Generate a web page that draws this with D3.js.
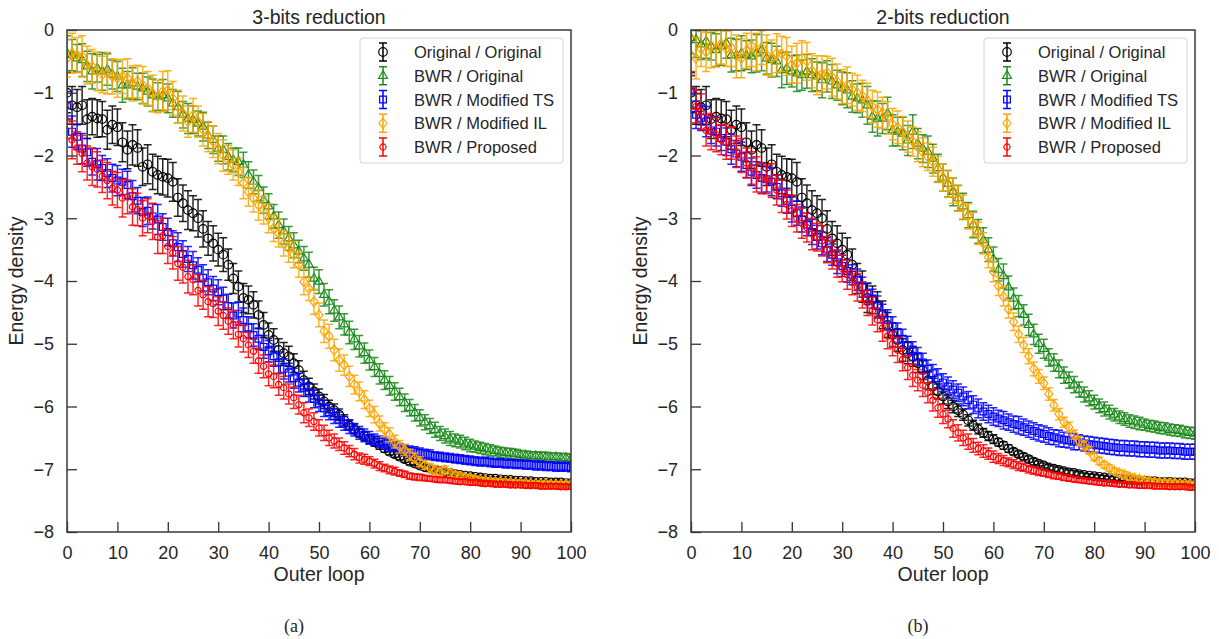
<!DOCTYPE html>
<html><head><meta charset="utf-8">
<script src="https://cdn.jsdelivr.net/npm/d3@7/dist/d3.min.js"></script>
<style>
body{margin:0;background:#fff}
text{font-family:"Liberation Sans",Arial,sans-serif;fill:#262626}
</style></head><body>
<svg id="chart" width="1219" height="639"></svg>
<script>
// ---------------- data ----------------
const outerLoop = d3.range(0, 101);
const xTicks = [0,10,20,30,40,50,60,70,80,90,100];
const yTicks = [0,-1,-2,-3,-4,-5,-6,-7,-8];
const seriesNames = ["Original / Original","BWR / Original","BWR / Modified TS","BWR / Modified IL","BWR / Proposed"];
const panelTitles = ["3-bits reduction","2-bits reduction"];
const panelCaptions = ["(a)","(b)"];

// Original / Original (same baseline in both panels)
const origVals = [
-1.00,-1.20,-1.23,-1.20,-1.42,-1.38,-1.41,-1.42,-1.59,-1.51,
-1.55,-1.79,-1.91,-1.83,-1.88,-2.18,-2.14,-2.26,-2.31,-2.34,
-2.36,-2.42,-2.67,-2.76,-2.87,-2.92,-3.00,-3.17,-3.32,-3.40,
-3.50,-3.58,-3.74,-3.96,-4.09,-4.27,-4.30,-4.38,-4.54,-4.70,
-4.86,-4.94,-5.10,-5.15,-5.20,-5.31,-5.42,-5.58,-5.68,-5.76,
-5.84,-5.92,-6.00,-6.06,-6.13,-6.22,-6.30,-6.36,-6.42,-6.47,
-6.52,-6.57,-6.62,-6.67,-6.72,-6.76,-6.80,-6.84,-6.88,-6.91,
-6.94,-6.97,-6.99,-7.01,-7.03,-7.05,-7.06,-7.08,-7.09,-7.10,
-7.11,-7.12,-7.13,-7.14,-7.15,-7.15,-7.16,-7.17,-7.17,-7.18,
-7.18,-7.19,-7.19,-7.20,-7.20,-7.20,-7.21,-7.21,-7.21,-7.22,
-7.22];
const origErr = [
0.32,0.30,0.28,0.30,0.31,0.29,0.30,0.28,0.31,0.30,
0.29,0.31,0.30,0.32,0.29,0.30,0.31,0.28,0.30,0.29,
0.30,0.31,0.30,0.29,0.31,0.28,0.30,0.29,0.27,0.28,
0.26,0.27,0.25,0.24,0.25,0.23,0.22,0.21,0.22,0.20,
0.19,0.18,0.18,0.17,0.16,0.15,0.15,0.14,0.13,0.12,
0.12,0.11,0.10,0.10,0.09,0.09,0.08,0.08,0.07,0.07,
0.07,0.06,0.06,0.06,0.05,0.05,0.05,0.05,0.05,0.04,
0.04,0.04,0.04,0.04,0.04,0.04,0.04,0.04,0.03,0.03,
0.03,0.03,0.03,0.03,0.03,0.03,0.03,0.03,0.03,0.03,
0.03,0.03,0.03,0.03,0.03,0.03,0.03,0.03,0.03,0.03,
0.03];

// ---- 3-bits reduction ----
const bwrOrigA = [
-0.37,-0.40,-0.45,-0.48,-0.58,-0.66,-0.61,-0.66,-0.63,-0.71,
-0.74,-0.88,-0.88,-0.85,-0.90,-0.93,-0.98,-1.04,-1.06,-1.04,
-1.09,-1.17,-1.23,-1.35,-1.41,-1.43,-1.49,-1.54,-1.68,-1.75,
-1.89,-1.91,-2.02,-2.07,-2.10,-2.15,-2.31,-2.42,-2.52,-2.71,
-2.81,-2.97,-3.11,-3.21,-3.32,-3.43,-3.53,-3.64,-3.74,-3.96,
-4.01,-4.22,-4.33,-4.47,-4.58,-4.69,-4.82,-4.93,-5.04,-5.15,
-5.26,-5.37,-5.48,-5.58,-5.67,-5.76,-5.85,-5.94,-6.02,-6.10,
-6.18,-6.25,-6.31,-6.37,-6.43,-6.47,-6.51,-6.54,-6.56,-6.59,
-6.62,-6.64,-6.66,-6.68,-6.70,-6.71,-6.73,-6.74,-6.75,-6.76,
-6.77,-6.78,-6.79,-6.79,-6.80,-6.80,-6.81,-6.81,-6.82,-6.82,
-6.83];
const bwrOrigAErr = [
0.28,0.25,0.22,0.26,0.24,0.28,0.22,0.30,0.25,0.23,
0.24,0.27,0.22,0.25,0.21,0.24,0.23,0.26,0.22,0.25,
0.23,0.22,0.25,0.21,0.24,0.22,0.20,0.23,0.21,0.22,
0.20,0.22,0.21,0.19,0.22,0.20,0.21,0.19,0.20,0.21,
0.20,0.19,0.21,0.20,0.19,0.20,0.18,0.19,0.20,0.18,
0.19,0.18,0.19,0.17,0.18,0.17,0.18,0.16,0.17,0.16,
0.16,0.15,0.16,0.15,0.15,0.14,0.14,0.14,0.13,0.13,
0.13,0.12,0.12,0.12,0.11,0.11,0.11,0.10,0.10,0.10,
0.10,0.09,0.09,0.09,0.09,0.08,0.08,0.08,0.08,0.08,
0.07,0.07,0.07,0.07,0.07,0.07,0.07,0.07,0.07,0.07,
0.07];
const modTSA = [
-1.20,-1.62,-1.70,-1.89,-1.95,-2.10,-2.14,-2.20,-2.28,-2.36,
-2.40,-2.42,-2.47,-2.65,-2.72,-2.90,-2.88,-2.97,-3.02,-3.14,
-3.22,-3.40,-3.46,-3.57,-3.65,-3.75,-3.82,-3.95,-4.02,-4.12,
-4.18,-4.28,-4.40,-4.55,-4.52,-4.62,-4.74,-4.86,-4.92,-5.05,
-5.12,-5.20,-5.30,-5.40,-5.46,-5.55,-5.62,-5.70,-5.78,-5.88,
-5.95,-6.03,-6.09,-6.15,-6.21,-6.27,-6.32,-6.37,-6.42,-6.46,
-6.50,-6.53,-6.56,-6.59,-6.62,-6.64,-6.67,-6.69,-6.71,-6.72,
-6.74,-6.76,-6.77,-6.79,-6.80,-6.81,-6.82,-6.83,-6.84,-6.85,
-6.86,-6.87,-6.88,-6.88,-6.89,-6.90,-6.90,-6.91,-6.91,-6.92,
-6.92,-6.93,-6.93,-6.94,-6.94,-6.95,-6.95,-6.96,-6.96,-6.96,
-6.97];
const modTSAErr = [
0.22,0.25,0.20,0.24,0.22,0.21,0.25,0.20,0.23,0.22,
0.24,0.20,0.22,0.25,0.21,0.23,0.22,0.20,0.24,0.21,
0.22,0.20,0.23,0.21,0.20,0.22,0.19,0.21,0.20,0.19,
0.20,0.18,0.19,0.20,0.18,0.19,0.17,0.18,0.17,0.18,
0.17,0.16,0.17,0.16,0.15,0.16,0.15,0.14,0.15,0.14,
0.13,0.13,0.12,0.12,0.12,0.11,0.11,0.10,0.10,0.10,
0.10,0.09,0.09,0.09,0.09,0.08,0.08,0.08,0.08,0.08,
0.08,0.08,0.08,0.07,0.07,0.07,0.07,0.07,0.07,0.07,
0.07,0.07,0.07,0.07,0.07,0.07,0.07,0.07,0.07,0.07,
0.07,0.07,0.07,0.07,0.07,0.07,0.07,0.07,0.07,0.07,
0.07];
const modILA = [
-0.45,-0.37,-0.40,-0.42,-0.56,-0.58,-0.66,-0.71,-0.69,-0.74,
-0.77,-0.74,-0.77,-0.85,-0.82,-0.88,-0.93,-1.01,-1.06,-0.98,
-0.96,-1.09,-1.22,-1.33,-1.46,-1.36,-1.46,-1.59,-1.70,-1.78,
-1.89,-2.00,-2.07,-2.15,-2.26,-2.44,-2.58,-2.68,-2.79,-2.87,
-3.00,-3.16,-3.24,-3.40,-3.48,-3.58,-3.74,-4.01,-4.12,-4.33,
-4.54,-4.80,-4.88,-5.10,-5.26,-5.34,-5.52,-5.65,-5.76,-5.89,
-6.03,-6.13,-6.27,-6.37,-6.45,-6.56,-6.64,-6.69,-6.77,-6.82,
-6.88,-6.93,-6.98,-7.01,-7.04,-7.01,-7.06,-7.09,-7.11,-7.13,
-7.14,-7.16,-7.17,-7.18,-7.19,-7.20,-7.20,-7.21,-7.21,-7.22,
-7.22,-7.22,-7.23,-7.23,-7.23,-7.23,-7.24,-7.24,-7.24,-7.24,
-7.24];
const modILAErr = [
0.30,0.32,0.28,0.33,0.30,0.27,0.31,0.29,0.33,0.28,
0.30,0.27,0.31,0.28,0.26,0.30,0.27,0.29,0.26,0.32,
0.31,0.27,0.26,0.28,0.25,0.27,0.25,0.26,0.24,0.25,
0.24,0.25,0.23,0.24,0.22,0.25,0.23,0.22,0.24,0.22,
0.23,0.21,0.22,0.20,0.22,0.21,0.20,0.21,0.19,0.20,
0.19,0.18,0.19,0.17,0.18,0.16,0.16,0.15,0.15,0.14,
0.13,0.13,0.12,0.11,0.11,0.10,0.10,0.09,0.09,0.08,
0.08,0.07,0.07,0.07,0.06,0.06,0.06,0.05,0.05,0.05,
0.05,0.05,0.04,0.04,0.04,0.04,0.04,0.04,0.04,0.04,
0.04,0.04,0.04,0.04,0.04,0.04,0.04,0.04,0.04,0.04,
0.04];
const proposedA = [
-1.45,-1.75,-1.88,-1.97,-2.12,-2.18,-2.22,-2.33,-2.40,-2.52,
-2.55,-2.68,-2.66,-2.82,-2.86,-3.00,-2.96,-3.05,-3.30,-3.28,
-3.45,-3.55,-3.72,-3.78,-3.93,-3.98,-4.15,-4.22,-4.33,-4.36,
-4.48,-4.55,-4.64,-4.70,-4.85,-4.92,-5.02,-5.12,-5.27,-5.36,
-5.48,-5.52,-5.65,-5.70,-5.80,-5.86,-5.97,-6.10,-6.18,-6.24,
-6.34,-6.42,-6.50,-6.55,-6.60,-6.66,-6.71,-6.76,-6.82,-6.84,
-6.87,-6.91,-6.95,-6.98,-7.01,-7.03,-7.06,-7.08,-7.11,-7.12,
-7.13,-7.14,-7.15,-7.16,-7.17,-7.17,-7.18,-7.19,-7.20,-7.20,
-7.21,-7.21,-7.22,-7.23,-7.23,-7.24,-7.24,-7.24,-7.25,-7.25,
-7.25,-7.26,-7.26,-7.26,-7.27,-7.27,-7.27,-7.27,-7.28,-7.28,
-7.28];
const proposedAErr = [
0.28,0.30,0.26,0.29,0.27,0.30,0.28,0.26,0.29,0.27,
0.28,0.30,0.27,0.29,0.26,0.28,0.27,0.29,0.26,0.28,
0.27,0.26,0.27,0.25,0.26,0.24,0.25,0.23,0.24,0.22,
0.23,0.22,0.21,0.22,0.20,0.21,0.20,0.19,0.20,0.18,
0.19,0.18,0.17,0.18,0.16,0.17,0.15,0.16,0.14,0.14,
0.13,0.12,0.12,0.11,0.10,0.10,0.09,0.09,0.08,0.08,
0.07,0.07,0.07,0.06,0.06,0.06,0.05,0.05,0.05,0.05,
0.05,0.04,0.04,0.04,0.04,0.04,0.04,0.04,0.04,0.04,
0.04,0.04,0.04,0.04,0.04,0.04,0.04,0.04,0.04,0.04,
0.04,0.04,0.04,0.04,0.04,0.04,0.04,0.04,0.04,0.04,
0.04];

// ---- 2-bits reduction ----
const bwrOrigB = [
-0.13,-0.16,-0.23,-0.18,-0.26,-0.32,-0.26,-0.21,-0.40,-0.40,
-0.37,-0.40,-0.42,-0.37,-0.32,-0.45,-0.48,-0.50,-0.64,-0.61,
-0.66,-0.69,-0.72,-0.66,-0.72,-0.74,-0.80,-0.74,-0.82,-0.88,
-0.93,-0.96,-1.06,-1.09,-1.12,-1.20,-1.38,-1.41,-1.41,-1.33,
-1.60,-1.62,-1.65,-1.76,-1.62,-1.81,-1.89,-1.94,-2.05,-2.20,
-2.35,-2.45,-2.58,-2.68,-2.81,-2.95,-3.10,-3.21,-3.35,-3.50,
-3.65,-3.82,-3.92,-4.10,-4.28,-4.40,-4.54,-4.70,-4.85,-5.00,
-5.08,-5.22,-5.30,-5.40,-5.50,-5.58,-5.65,-5.73,-5.81,-5.87,
-5.93,-5.99,-6.04,-6.09,-6.13,-6.17,-6.20,-6.23,-6.25,-6.27,
-6.29,-6.31,-6.32,-6.34,-6.35,-6.37,-6.38,-6.39,-6.41,-6.42,
-6.43];
const bwrOrigBErr = [
0.25,0.28,0.24,0.27,0.22,0.26,0.30,0.24,0.27,0.25,
0.28,0.23,0.26,0.30,0.33,0.25,0.27,0.24,0.28,0.26,
0.25,0.29,0.24,0.27,0.26,0.23,0.28,0.25,0.27,0.24,
0.26,0.28,0.25,0.23,0.27,0.30,0.25,0.28,0.24,0.26,
0.25,0.23,0.26,0.24,0.27,0.24,0.22,0.25,0.23,0.22,
0.22,0.21,0.22,0.20,0.21,0.20,0.21,0.19,0.20,0.19,
0.19,0.18,0.19,0.18,0.17,0.17,0.16,0.17,0.16,0.15,
0.15,0.14,0.14,0.14,0.13,0.13,0.13,0.12,0.12,0.12,
0.11,0.11,0.11,0.11,0.10,0.10,0.10,0.10,0.10,0.10,
0.09,0.09,0.09,0.09,0.09,0.09,0.09,0.09,0.09,0.09,
0.09];
const modTSB = [
-0.98,-1.35,-1.40,-1.46,-1.60,-1.62,-1.72,-1.78,-1.90,-1.97,
-2.02,-2.15,-2.26,-2.31,-2.36,-2.38,-2.42,-2.50,-2.60,-2.72,
-2.85,-2.92,-3.02,-3.10,-3.22,-3.30,-3.40,-3.50,-3.58,-3.70,
-3.76,-3.84,-3.90,-3.98,-4.10,-4.20,-4.28,-4.40,-4.52,-4.62,
-4.72,-4.83,-4.92,-5.02,-5.12,-5.20,-5.30,-5.40,-5.47,-5.55,
-5.62,-5.68,-5.73,-5.78,-5.84,-5.90,-5.97,-6.03,-6.08,-6.12,
-6.16,-6.19,-6.22,-6.25,-6.28,-6.30,-6.33,-6.36,-6.39,-6.42,
-6.44,-6.47,-6.49,-6.51,-6.53,-6.54,-6.56,-6.57,-6.59,-6.60,
-6.61,-6.62,-6.63,-6.64,-6.65,-6.66,-6.66,-6.67,-6.67,-6.68,
-6.68,-6.69,-6.69,-6.70,-6.70,-6.70,-6.71,-6.71,-6.72,-6.72,
-6.72];
const modTSBErr = [
0.25,0.22,0.20,0.24,0.21,0.23,0.20,0.22,0.24,0.21,
0.23,0.20,0.22,0.21,0.24,0.20,0.22,0.19,0.21,0.20,
0.21,0.19,0.20,0.18,0.20,0.19,0.18,0.19,0.17,0.18,
0.17,0.18,0.16,0.17,0.16,0.17,0.15,0.16,0.15,0.16,
0.15,0.16,0.15,0.14,0.15,0.14,0.15,0.14,0.14,0.15,
0.14,0.15,0.14,0.14,0.15,0.14,0.14,0.15,0.14,0.14,
0.14,0.13,0.14,0.13,0.13,0.14,0.13,0.13,0.13,0.13,
0.13,0.13,0.12,0.13,0.12,0.12,0.13,0.12,0.12,0.12,
0.12,0.12,0.12,0.12,0.12,0.12,0.12,0.12,0.12,0.12,
0.12,0.12,0.12,0.12,0.12,0.12,0.12,0.12,0.12,0.12,
0.12];
const modILB = [
-0.40,-0.45,-0.30,-0.35,-0.25,-0.30,-0.22,-0.30,-0.28,-0.42,
-0.45,-0.33,-0.25,-0.35,-0.28,-0.40,-0.45,-0.37,-0.38,-0.42,
-0.55,-0.53,-0.45,-0.50,-0.65,-0.72,-0.70,-0.68,-0.75,-0.82,
-0.90,-0.88,-0.95,-1.00,-1.05,-1.12,-1.22,-1.27,-1.32,-1.40,
-1.50,-1.55,-1.62,-1.70,-1.78,-1.86,-1.95,-2.02,-2.10,-2.22,
-2.35,-2.45,-2.56,-2.68,-2.82,-2.97,-3.10,-3.24,-3.40,-3.62,
-3.85,-4.08,-4.25,-4.45,-4.65,-4.85,-5.02,-5.20,-5.40,-5.52,
-5.63,-5.80,-5.98,-6.12,-6.25,-6.33,-6.45,-6.55,-6.62,-6.70,
-6.80,-6.87,-6.93,-6.98,-7.03,-7.06,-7.09,-7.12,-7.14,-7.16,
-7.18,-7.19,-7.20,-7.21,-7.21,-7.22,-7.22,-7.23,-7.23,-7.24,
-7.24];
const modILBErr = [
0.30,0.33,0.28,0.31,0.35,0.29,0.32,0.28,0.30,0.34,
0.31,0.28,0.33,0.30,0.27,0.32,0.29,0.31,0.28,0.30,
0.29,0.32,0.28,0.30,0.27,0.31,0.29,0.26,0.30,0.28,
0.27,0.29,0.26,0.28,0.25,0.27,0.26,0.28,0.25,0.26,
0.25,0.26,0.24,0.25,0.23,0.24,0.23,0.22,0.23,0.21,
0.22,0.21,0.20,0.21,0.19,0.20,0.19,0.18,0.17,0.17,
0.16,0.15,0.15,0.14,0.14,0.13,0.12,0.12,0.11,0.11,
0.10,0.10,0.09,0.09,0.08,0.08,0.07,0.07,0.07,0.06,
0.06,0.06,0.05,0.05,0.05,0.05,0.05,0.05,0.04,0.04,
0.04,0.04,0.04,0.04,0.04,0.04,0.04,0.04,0.04,0.04,
0.04];
const proposedB = [
-0.96,-1.22,-1.30,-1.60,-1.62,-1.67,-1.75,-1.78,-1.80,-1.94,
-2.00,-2.12,-2.20,-2.30,-2.36,-2.38,-2.40,-2.55,-2.65,-2.78,
-2.88,-3.00,-3.08,-3.15,-3.25,-3.30,-3.36,-3.50,-3.58,-3.72,
-3.80,-3.90,-4.02,-4.10,-4.22,-4.35,-4.48,-4.62,-4.75,-4.88,
-5.00,-5.10,-5.25,-5.38,-5.50,-5.58,-5.66,-5.78,-5.90,-6.02,
-6.12,-6.20,-6.35,-6.42,-6.50,-6.56,-6.62,-6.67,-6.71,-6.75,
-6.80,-6.83,-6.86,-6.89,-6.92,-6.95,-6.97,-7.00,-7.02,-7.04,
-7.06,-7.08,-7.10,-7.11,-7.13,-7.14,-7.16,-7.17,-7.18,-7.19,
-7.20,-7.21,-7.22,-7.22,-7.23,-7.24,-7.24,-7.25,-7.25,-7.26,
-7.26,-7.26,-7.27,-7.27,-7.27,-7.28,-7.28,-7.28,-7.28,-7.29,
-7.29];
const proposedBErr = [
0.30,0.26,0.28,0.25,0.29,0.27,0.24,0.28,0.26,0.25,
0.27,0.24,0.26,0.28,0.25,0.23,0.27,0.24,0.26,0.23,
0.25,0.22,0.24,0.23,0.25,0.22,0.24,0.21,0.23,0.22,
0.21,0.23,0.20,0.22,0.21,0.20,0.22,0.19,0.21,0.20,
0.19,0.20,0.18,0.19,0.18,0.17,0.18,0.16,0.17,0.15,
0.15,0.14,0.14,0.13,0.12,0.12,0.11,0.10,0.10,0.09,
0.09,0.08,0.08,0.07,0.07,0.07,0.06,0.06,0.06,0.06,
0.05,0.05,0.05,0.05,0.05,0.05,0.04,0.04,0.04,0.04,
0.04,0.04,0.04,0.04,0.04,0.04,0.04,0.04,0.04,0.04,
0.04,0.04,0.04,0.04,0.04,0.04,0.04,0.04,0.04,0.04,
0.04];

const seriesColors = ["#000000","#1b8a1b","#0000ff","#ffa500","#ff0000"];
const seriesMarkers = ["circle","triangle","square","diamond","smallcircle"];

const panelData = [
  [[origVals,origErr],[bwrOrigA,bwrOrigAErr],[modTSA,modTSAErr],[modILA,modILAErr],[proposedA,proposedAErr]],
  [[origVals,origErr],[bwrOrigB,bwrOrigBErr],[modTSB,modTSBErr],[modILB,modILBErr],[proposedB,proposedBErr]]
];

// ---------------- drawing ----------------
const svg = d3.select("#chart");
const plotTop = 30, plotBottom = 532;
const panelLefts = [67, 691], plotWidth = 504;
const y = d3.scaleLinear().domain([-8, 0]).range([plotBottom, plotTop]);

function markerPath(kind) {
  if (kind === "circle") return d3.symbol(d3.symbolCircle, Math.PI * 4.3 * 4.3)();
  if (kind === "smallcircle") return d3.symbol(d3.symbolCircle, Math.PI * 3.1 * 3.1)();
  if (kind === "triangle") return d3.symbol(d3.symbolTriangle, 34)();
  if (kind === "square") return d3.symbol(d3.symbolSquare, 46)();
  if (kind === "diamond") return "M0,-5L4,0L0,5L-4,0Z";
}

panelData.forEach((series, p) => {
  const left = panelLefts[p], right = left + plotWidth;
  const x = d3.scaleLinear().domain([0, 100]).range([left, right]);
  const g = svg.append("g");
  const clipId = "clip" + p;
  svg.append("defs").append("clipPath").attr("id", clipId)
    .append("rect").attr("x", left).attr("y", plotTop)
    .attr("width", plotWidth).attr("height", plotBottom - plotTop);

  const plot = g.append("g").attr("clip-path", `url(#${clipId})`);
  series.forEach(([vals, errs], si) => {
    const col = seriesColors[si];
    const sg = plot.append("g");
    const pts = outerLoop.map((xv, i) => ({x: xv, v: vals[i], e: errs[i]}));
    sg.selectAll("line.bar").data(pts).join("line")
      .attr("x1", d => x(d.x)).attr("x2", d => x(d.x))
      .attr("y1", d => y(d.v - d.e)).attr("y2", d => y(d.v + d.e))
      .attr("stroke", col).attr("stroke-width", 1.5).attr("stroke-opacity", 0.85);
    sg.selectAll("path.cap").data(pts).join("path")
      .attr("d", d => `M${x(d.x)-4},${y(d.v - d.e)}h8M${x(d.x)-4},${y(d.v + d.e)}h8`)
      .attr("stroke", col).attr("stroke-width", 1.5).attr("stroke-opacity", 0.85).attr("fill", "none");
    sg.selectAll("path.mk").data(pts).join("path")
      .attr("transform", d => `translate(${x(d.x)},${y(d.v)})`)
      .attr("d", markerPath(seriesMarkers[si]))
      .attr("fill", "none").attr("stroke", col).attr("stroke-width", 1.2);
  });

  // axes
  const xAxis = d3.axisBottom(x).tickValues(xTicks).tickSize(-10).tickPadding(14).tickFormat(d3.format("d"));
  const yAxis = d3.axisLeft(y).tickValues(yTicks).tickSize(-10).tickPadding(13).tickFormat(d3.format("d"));
  const gx = g.append("g").attr("transform", `translate(0,${plotBottom})`).call(xAxis);
  const gy = g.append("g").attr("transform", `translate(${left},0)`).call(yAxis);
  [gx, gy].forEach(a => {
    a.select(".domain").remove();
    a.selectAll(".tick line").attr("stroke", "#333").attr("stroke-width", 1.3);
    a.selectAll(".tick text").attr("fill", "#262626").style("font-family", '"Liberation Sans",Arial,sans-serif');
  });
  gx.selectAll(".tick text").style("font-size", "18px");
  gy.selectAll(".tick text").style("font-size", "18px");

  g.append("rect").attr("x", left).attr("y", plotTop).attr("width", plotWidth).attr("height", plotBottom - plotTop)
    .attr("fill", "none").attr("stroke", "#3a3a3a").attr("stroke-width", 1.5);

  // labels
  g.append("text").attr("x", (left + right) / 2).attr("y", 24).attr("text-anchor", "middle")
    .style("font-size", "19.5px").text(panelTitles[p]);
  g.append("text").attr("x", (left + right) / 2).attr("y", 581).attr("text-anchor", "middle")
    .style("font-size", "19.5px").text("Outer loop");
  g.append("text").attr("transform", `translate(${left - 44},${(plotTop + plotBottom) / 2}) rotate(-90)`)
    .attr("text-anchor", "middle").style("font-size", "19.5px").text("Energy density");
  g.append("text").attr("x", left + 227).attr("y", 632).attr("text-anchor", "middle")
    .style("font-family", '"Liberation Serif","Times New Roman",serif').style("font-size", "18px")
    .text(panelCaptions[p]);

  // legend
  const lgRight = right - 8, lgW = 203, lgX = lgRight - lgW, lgY = 38;
  const lg = g.append("g");
  lg.append("rect").attr("x", lgX).attr("y", lgY).attr("width", lgW).attr("height", 125).attr("rx", 3)
    .attr("fill", "#fff").attr("fill-opacity", 0.85).attr("stroke", "#d4d4d4").attr("stroke-width", 1);
  seriesNames.forEach((name, si) => {
    const cy = 52 + si * 23.75, mx = lgX + 23, col = seriesColors[si];
    lg.append("path").attr("d", `M${mx},${cy-9}V${cy+9}M${mx-4},${cy-9}h8M${mx-4},${cy+9}h8`)
      .attr("stroke", col).attr("stroke-width", 1.5).attr("fill", "none");
    lg.append("path").attr("transform", `translate(${mx},${cy})`).attr("d", markerPath(seriesMarkers[si]))
      .attr("fill", "none").attr("stroke", col).attr("stroke-width", 1.2);
    lg.append("text").attr("x", lgX + 54).attr("y", cy + 6).style("font-size", "16.5px").text(name);
  });
});
</script>
</body></html>
